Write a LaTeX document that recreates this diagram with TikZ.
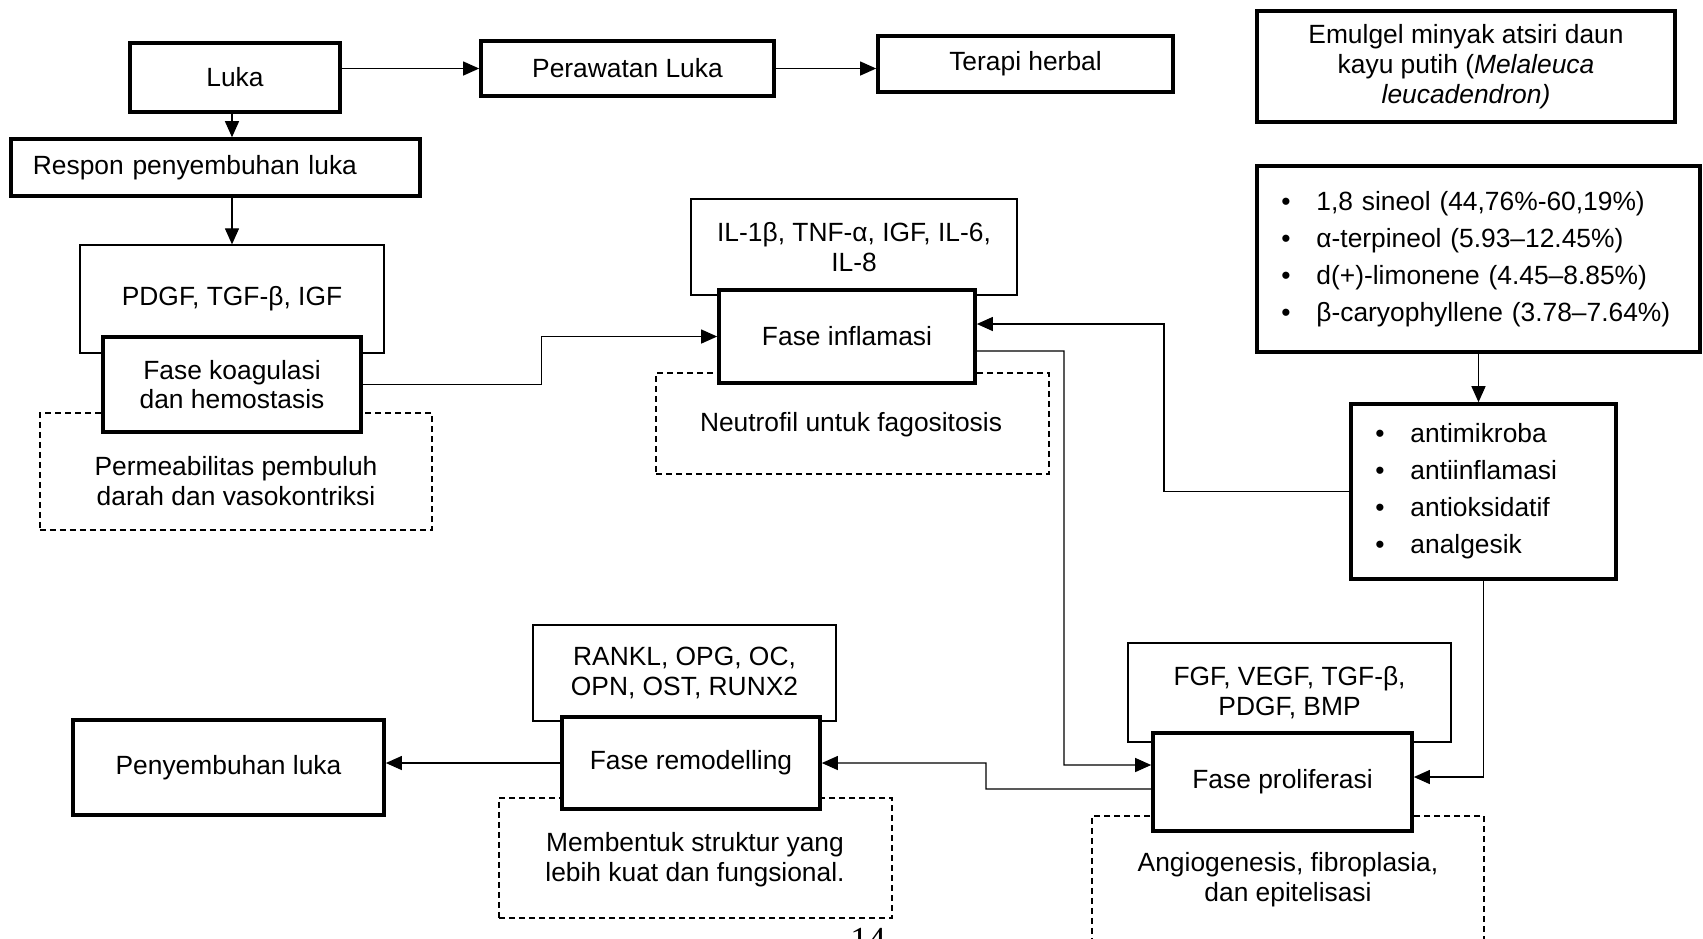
\documentclass[tikz,border=0pt]{standalone}
\usepackage{fontspec}
\setmainfont{Liberation Sans}
\newfontfamily\pagefont{Liberation Serif}
\usetikzlibrary{arrows.meta}
\newcommand{\blt}{\makebox[0.35cm][l]{•}}

\begin{document}
\begin{tikzpicture}[x=0.01cm,y=-0.01cm,
  every node/.style={font=\fontsize{7.5}{8.5}\selectfont,inner sep=0pt,align=center},
  thickbox/.style={draw,rectangle,line width=1pt,fill=white},
  thinbox/.style={draw,rectangle,line width=0.35pt},
  dashbox/.style={draw,rectangle,line width=0.4pt,dash pattern=on 0.06cm off 0.04cm},
  listbox/.style={thickbox,align=left,font=\fontsize{7.5}{10.5}\selectfont},
  conn/.style={line width=0.35pt,-{Triangle[length=0.16cm,width=0.14cm]}}]
\clip (0,0) rectangle (1703,938);
\fill[white] (0,0) rectangle (1703,938);
% Top row
\node[thickbox,minimum width=2.10cm,minimum height=0.69cm] (luka) at (235,77.5) {Luka};
\node[thickbox,minimum width=2.93cm,minimum height=0.55cm] (rawat) at (627.5,68.5) {Perawatan Luka};
\node[thickbox,minimum width=2.95cm,minimum height=0.56cm] (herbal) at (1025.5,64) {Terapi herbal};
\node[thickbox,minimum width=4.18cm,minimum height=1.11cm] (emulgel) at (1466,66.5) {Emulgel minyak atsiri daun\\kayu putih (\textit{Melaleuca}\\\textit{leucadendron)}};
\node[thickbox,minimum width=4.09cm,minimum height=0.57cm,text width=3.65cm,align=left] (respon) at (215.5,167.5) {Respon penyembuhan luka};

% Fase koagulasi
\node[thinbox,minimum width=3.04cm,minimum height=1.08cm] (pdgf) at (232,299) {PDGF, TGF-β, IGF};
\node[dashbox,minimum width=3.92cm,minimum height=1.17cm] (perm) at (236,471.5) {};
\node (permtxt) at (236,481) {Permeabilitas pembuluh\\darah dan vasokontriksi};
\node[thickbox,minimum width=2.58cm,minimum height=0.95cm] (koag) at (232,384.5) {Fase koagulasi\\dan hemostasis};

% Fase inflamasi
\node[thinbox,minimum width=3.26cm,minimum height=0.96cm] (il) at (854,247) {IL-1β, TNF-α, IGF, IL-6,\\IL-8};
\node[dashbox,minimum width=3.93cm,minimum height=1.01cm] (neutro) at (852.5,423.5) {};
\node (neutrotxt) at (851,425) {Neutrofil untuk fagositosis};
\node[thickbox,minimum width=2.56cm,minimum height=0.93cm] (infl) at (847,336.5) {Fase inflamasi};

% Kandungan dan aktivitas
\node[listbox,minimum width=4.43cm,minimum height=1.86cm,text width=3.94cm] (sineol) at (1478.5,259) {\blt 1,8 sineol (44,76\%-60,19\%)\\\blt α-terpineol (5.93–12.45\%)\\\blt d(+)-limonene (4.45–8.85\%)\\\blt β-caryophyllene (3.78–7.64\%)};
\node[listbox,minimum width=2.65cm,minimum height=1.75cm,text width=2.16cm] (anti) at (1483.5,491.5) {\blt antimikroba\\\blt antiinflamasi\\\blt antioksidatif\\\blt analgesik};

% Fase proliferasi
\node[thinbox,minimum width=3.23cm,minimum height=0.99cm] (fgf) at (1289.5,692.5) {FGF, VEGF, TGF-β,\\PDGF, BMP};
\node[dashbox,minimum width=3.92cm,minimum height=1.44cm] (angio) at (1288,888) {};
\node (angiotxt) at (1288,880) {Angiogenesis, fibroplasia,\\dan epitelisasi};
\node[thickbox,minimum width=2.59cm,minimum height=0.98cm] (prolif) at (1282.5,782) {Fase proliferasi};

% Fase remodelling
\node[thinbox,minimum width=3.03cm,minimum height=0.96cm] (rankl) at (684.5,673) {RANKL, OPG, OC,\\OPN, OST, RUNX2};
\node[dashbox,minimum width=3.93cm,minimum height=1.20cm] (bentuk) at (695.5,858) {};
\node (bentuktxt) at (695,860) {Membentuk struktur yang\\lebih kuat dan fungsional.};
\node[thickbox,minimum width=2.58cm,minimum height=0.92cm] (remod) at (691,763) {Fase remodelling};
\node[thickbox,minimum width=3.11cm,minimum height=0.95cm] (sembuh) at (228.5,767.5) {Penyembuhan luka};

\node[font=\pagefont\fontsize{10}{12}\selectfont,anchor=north] (hal) at (868,928) {14};

% Connectors
\draw[conn] (luka.east |- rawat.west) -- (rawat.west);
\draw[conn] (rawat.east) -- (rawat.east -| herbal.west);
\draw[conn] (luka.south -| pdgf.north) -- (pdgf.north |- respon.north);
\draw[conn] (respon.south -| pdgf.north) -- (pdgf.north);
\draw[conn] (koag.east) -- ++(179,0) |- (infl.west);
\draw[conn] (sineol.south) -- (sineol.south |- anti.north);
\draw[conn] (anti.west) -- (1164,491.5) |- ([yshift=0.125cm]infl.east);
\draw[conn] ([yshift=-0.145cm]infl.east) -- (1064,351) |- ([yshift=0.17cm]prolif.west);
\draw[conn] (anti.south) |- ([yshift=0.05cm]prolif.east);
\draw[conn] ([yshift=-0.07cm]prolif.west) -- (986,789) |- (remod.east);
\draw[conn] (remod.west) -- (remod.west -| sembuh.east);
\end{tikzpicture}
\end{document}
